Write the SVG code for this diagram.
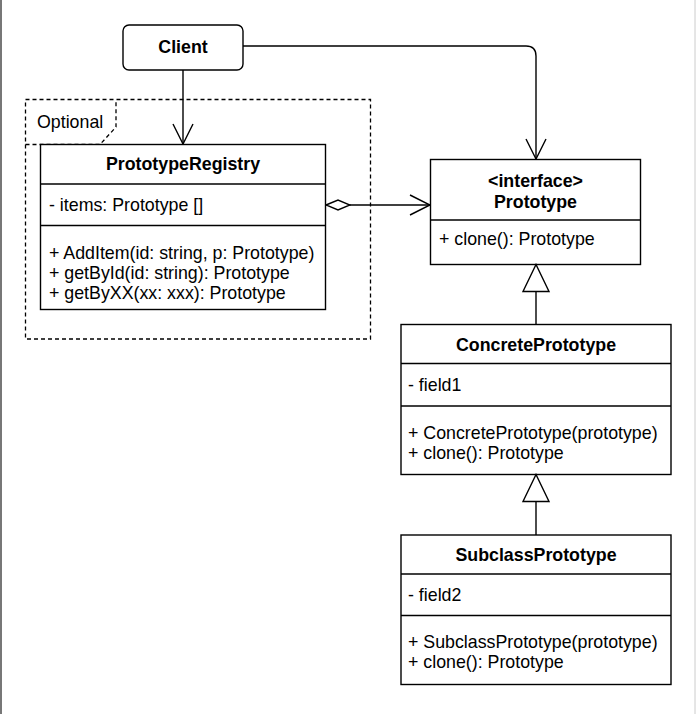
<svg xmlns="http://www.w3.org/2000/svg" width="696" height="714" viewBox="0 0 696 714">
<style>
.box{fill:#fff;stroke:#000;stroke-width:1.4}
.div{stroke:#000;stroke-width:1.4;fill:none}
.t{font-family:"Liberation Sans",Arial,sans-serif;font-size:17.8px;fill:#000}
.b{font-weight:bold;text-anchor:middle}
.ln{fill:none;stroke:#000;stroke-width:1.4}
.dash{fill:none;stroke:#000;stroke-width:1.3;stroke-dasharray:4 3}
</style>
<defs>
<marker id="open" viewBox="0 0 22 22" refX="21" refY="11" markerWidth="22" markerHeight="22" markerUnits="userSpaceOnUse" orient="auto">
<path d="M1,1 L21,11 L1,21" fill="none" stroke="#000" stroke-width="1.4"/>
</marker>
<marker id="tri" viewBox="0 0 30 30" refX="28" refY="15" markerWidth="30" markerHeight="30" markerUnits="userSpaceOnUse" orient="auto">
<path d="M28,15 L1,2 L1,28 Z" fill="#fff" stroke="#000" stroke-width="1.4"/>
</marker>
<marker id="dia" viewBox="0 0 26 12" refX="1" refY="6" markerWidth="26" markerHeight="12" markerUnits="userSpaceOnUse" orient="auto">
<path d="M1,6 L13,1 L25,6 L13,11 Z" fill="#fff" stroke="#000" stroke-width="1.4"/>
</marker>
</defs>
<rect x="0" y="0" width="696" height="714" fill="#fff"/>
<line x1="1" y1="0" x2="1" y2="714" stroke="#777" stroke-width="2"/>
<line x1="695" y1="0" x2="695" y2="714" stroke="#ccc" stroke-width="1"/>

<g id="optional-frame">
<rect class="dash" x="25.5" y="99.5" width="345" height="239.5"/>
<path class="dash" d="M25.5,144.5 L100,144.5 L116,127 L116,99.5"/>
<text class="t" x="37" y="128">Optional</text>
</g>

<g id="client">
<rect class="box" x="123" y="25" width="120" height="45" rx="6"/>
<text class="t b" x="183" y="53">Client</text>
</g>

<g id="registry">
<rect class="box" x="40.5" y="144.5" width="285" height="165"/>
<line class="div" x1="40.5" y1="184" x2="325.5" y2="184"/>
<line class="div" x1="40.5" y1="225.5" x2="325.5" y2="225.5"/>
<text class="t b" x="183" y="170">PrototypeRegistry</text>
<text class="t" x="49" y="211">- items: Prototype []</text>
<text class="t" x="49" y="258.5">+ AddItem(id: string, p: Prototype)</text>
<text class="t" x="49" y="278.5">+ getById(id: string): Prototype</text>
<text class="t" x="49" y="299">+ getByXX(xx: xxx): Prototype</text>
</g>

<g id="prototype">
<rect class="box" x="430.5" y="159.5" width="210" height="105"/>
<line class="div" x1="430.5" y1="220" x2="640.5" y2="220"/>
<text class="t b" x="535.5" y="186.5">&lt;interface&gt;</text>
<text class="t b" x="535.5" y="207.5">Prototype</text>
<text class="t" x="439" y="245">+ clone(): Prototype</text>
</g>

<g id="concrete">
<rect class="box" x="401" y="324.5" width="270" height="150"/>
<line class="div" x1="401" y1="363.5" x2="671" y2="363.5"/>
<line class="div" x1="401" y1="406" x2="671" y2="406"/>
<text class="t b" x="536" y="351">ConcretePrototype</text>
<text class="t" x="408" y="391">- field1</text>
<text class="t" x="408" y="439">+ ConcretePrototype(prototype)</text>
<text class="t" x="408" y="459">+ clone(): Prototype</text>
</g>

<g id="subclass">
<rect class="box" x="401" y="535" width="270" height="149.5"/>
<line class="div" x1="401" y1="574" x2="671" y2="574"/>
<line class="div" x1="401" y1="615.5" x2="671" y2="615.5"/>
<text class="t b" x="536" y="561">SubclassPrototype</text>
<text class="t" x="408" y="601">- field2</text>
<text class="t" x="408" y="647.5">+ SubclassPrototype(prototype)</text>
<text class="t" x="408" y="668">+ clone(): Prototype</text>
</g>

<g id="connectors">
<line class="ln" x1="183" y1="70" x2="183" y2="144" marker-end="url(#open)"/>
<path class="ln" d="M243,46 L526,46 Q536,46 536,56 L536,159" marker-end="url(#open)"/>
<line class="ln" x1="326" y1="205" x2="430" y2="205" marker-start="url(#dia)" marker-end="url(#open)"/>
<line class="ln" x1="536" y1="324.5" x2="536" y2="264.5" marker-end="url(#tri)"/>
<line class="ln" x1="536" y1="535" x2="536" y2="474.5" marker-end="url(#tri)"/>
</g>
</svg>
